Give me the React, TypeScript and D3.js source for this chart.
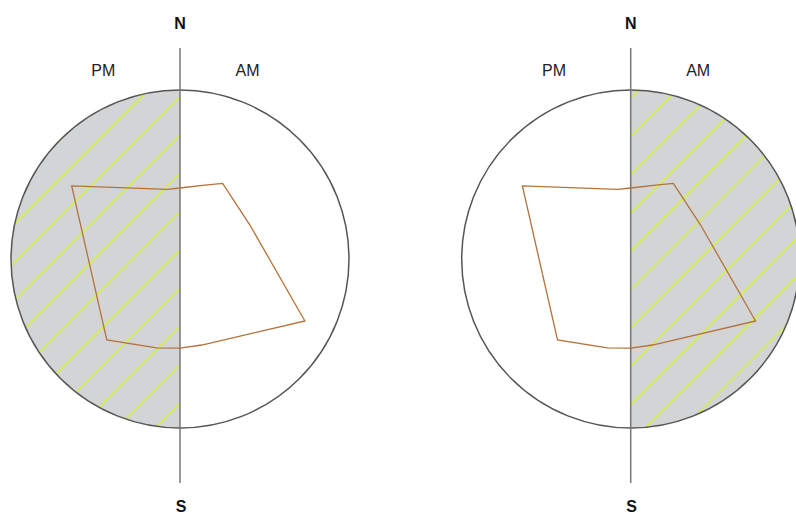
import React from "react";
import * as d3 from "d3";

// Polygon vertices: compass bearing (degrees clockwise from N) and radial value (0–100 of the circle radius)
const bearings = [0, 18.7, 29.4, 64.1, 116.4, 165.8, 180, 194.7, 222.1, 304, 349.7];
const values = [42, 46.2, 51.4, 46, 82.5, 52.5, 52.7, 54.4, 64.6, 77.3, 41.9];

const panels = ["left", "right"];
const shadedHalf = ["PM", "AM"];
const halfLabels = ["PM", "AM"];
const northLabel = "N";
const southLabel = "S";

const W = 796;
const H = 514;
const R = 169;
const CY = 259;
const centersX = [180, 630.7];
const hatchOffsets = [-162.3, -161];

export default function App() {
  const rScale = d3.scaleLinear().domain([0, 100]).range([0, R]);
  const pts: [number, number][] = bearings.map((b, i) => [(b * Math.PI) / 180, values[i]]);
  const line = d3
    .lineRadial<[number, number]>()
    .angle((d) => d[0])
    .radius((d) => rScale(d[1]))
    .curve(d3.curveLinearClosed);
  const pathD = line(pts) || "";
  const hatchK = d3.range(-12, 14);

  return (
    <svg
      width={W}
      height={H}
      style={{ position: "absolute", left: 0, top: 0, background: "#fff" }}
      fontFamily="'Liberation Sans', Arial, sans-serif"
    >
      <defs>
        {panels.map((p, i) => {
          const cx = centersX[i];
          const left = shadedHalf[i] === "PM";
          const arc = left
            ? `M${cx},${CY - R} A${R},${R} 0 0 0 ${cx},${CY + R} Z`
            : `M${cx},${CY - R} A${R},${R} 0 0 1 ${cx},${CY + R} Z`;
          return (
            <clipPath id={`half-${p}`} key={p}>
              <path d={arc} />
            </clipPath>
          );
        })}
      </defs>
      {panels.map((p, i) => {
        const cx = centersX[i];
        return (
          <g key={p}>
            <circle cx={cx} cy={CY} r={R} fill="#fff" />
            <g clipPath={`url(#half-${p})`}>
              <rect x={cx - R - 2} y={CY - R - 2} width={2 * R + 4} height={2 * R + 4} fill="#d3d4d6" />
              {hatchK.map((k) => {
                const y0 = CY + hatchOffsets[i] + 38.3 * k;
                return (
                  <line
                    key={k}
                    x1={cx - 400}
                    y1={y0 + 400}
                    x2={cx + 400}
                    y2={y0 - 400}
                    stroke="#d4f23c"
                    strokeWidth={1.5}
                  />
                );
              })}
            </g>
            <circle cx={cx} cy={CY} r={R} fill="none" stroke="#555" strokeWidth={1.5} />
            <line x1={cx} x2={cx} y1={48} y2={483} stroke="#777" strokeWidth={1.5} />
            <path d={pathD} transform={`translate(${cx},${CY})`} fill="none" stroke="#b3723a" strokeWidth={1.3} />
            <text x={cx} y={28.5} textAnchor="middle" fontSize={16} fontWeight="bold" fill="#111">
              {northLabel}
            </text>
            <text x={cx + 1} y={511.5} textAnchor="middle" fontSize={16} fontWeight="bold" fill="#111">
              {southLabel}
            </text>
            <text x={cx - 76.7} y={76} textAnchor="middle" fontSize={16} fill="#222">
              {halfLabels[0]}
            </text>
            <text x={cx + 67.5} y={76} textAnchor="middle" fontSize={16} fill="#222">
              {halfLabels[1]}
            </text>
          </g>
        );
      })}
    </svg>
  );
}
